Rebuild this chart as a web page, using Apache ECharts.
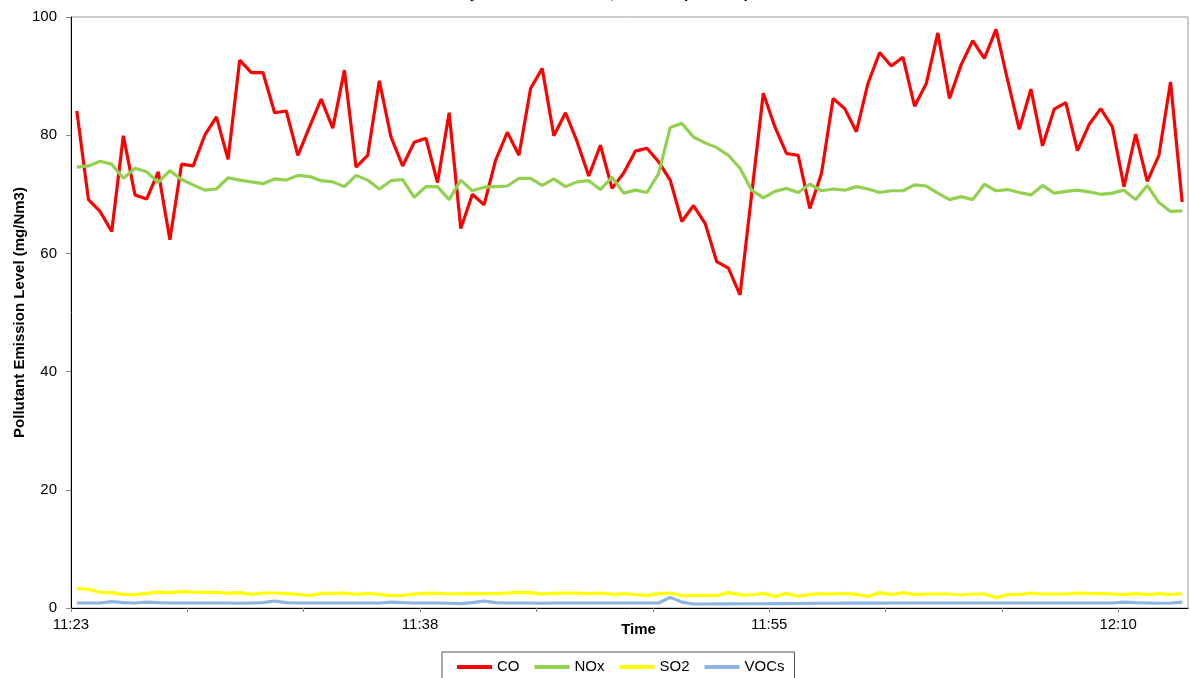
<!DOCTYPE html>
<html>
<head>
<meta charset="utf-8">
<script src="https://cdn.jsdelivr.net/npm/echarts@6/dist/echarts.min.js"></script>
<style>
html,body{margin:0;padding:0;background:#fff;}
#chart{width:1190px;height:678px;}
</style>
</head>
<body>
<div id="chart"></div>
<script>
// ---- data ----
const seriesNames = ['CO', 'NOx', 'SO2', 'VOCs'];
const tickLabels = ['11:23', '11:38', '11:55', '12:10'];
const tickLabelPositions = [0, 30, 60, 90];
const tickPositions = [0, 10, 20, 30, 40, 50, 60, 70, 80, 90];
const categories = [
  1,2,3,4,5,6,7,8,9,10,11,12,13,14,15,16,17,18,19,20,
  21,22,23,24,25,26,27,28,29,30,31,32,33,34,35,36,37,38,39,40,
  41,42,43,44,45,46,47,48,49,50,51,52,53,54,55,56,57,58,59,60,
  61,62,63,64,65,66,67,68,69,70,71,72,73,74,75,76,77,78,79,80,
  81,82,83,84,85,86,87,88,89,90,91,92,93,94,95,96
];
const co = [
  84.1,69.1,67.1,63.7,79.9,69.9,69.2,73.8,62.3,75.1,
  74.8,80.0,83.1,75.9,92.7,90.6,90.6,83.8,84.1,76.6,
  81.4,86.1,81.2,91.0,74.6,76.6,89.2,79.7,74.8,78.8,
  79.5,72.0,83.8,64.2,70.0,68.2,75.8,80.5,76.6,87.9,
  91.3,79.9,83.8,78.9,73.1,78.3,71.0,73.6,77.3,77.8,
  75.5,72.4,65.4,68.1,65.1,58.6,57.5,53.0,70.0,87.1,
  81.4,76.9,76.6,67.6,73.5,86.2,84.5,80.6,88.8,94.0,
  91.7,93.2,84.9,88.7,97.3,86.2,91.9,96.0,93.0,97.9,
  89.3,81.0,87.8,78.2,84.4,85.5,77.4,81.8,84.5,81.4,
  71.3,80.2,72.2,76.6,89.0,68.7
];
const nox = [
  74.6,74.8,75.6,75.1,72.7,74.4,73.8,72.0,74.0,72.5,
  71.6,70.7,70.9,72.8,72.4,72.1,71.8,72.6,72.4,73.2,
  73.0,72.3,72.1,71.3,73.2,72.4,70.9,72.3,72.5,69.5,
  71.3,71.3,69.1,72.4,70.6,71.2,71.3,71.4,72.7,72.7,
  71.5,72.6,71.3,72.1,72.3,70.8,72.9,70.2,70.7,70.3,
  73.5,81.3,82.0,79.7,78.7,77.9,76.6,74.4,70.7,69.4,
  70.5,71.0,70.3,71.7,70.6,70.9,70.7,71.3,70.9,70.3,
  70.6,70.6,71.6,71.4,70.2,69.1,69.6,69.1,71.7,70.6,
  70.8,70.3,69.9,71.5,70.2,70.5,70.7,70.4,70.0,70.2,
  70.7,69.1,71.5,68.6,67.1,67.2
];
const so2 = [
  3.33,3.16,2.65,2.60,2.31,2.26,2.48,2.70,2.60,2.76,
  2.70,2.65,2.65,2.48,2.60,2.31,2.54,2.54,2.43,2.31,
  2.09,2.48,2.48,2.54,2.31,2.48,2.31,2.09,2.14,2.37,
  2.48,2.50,2.37,2.43,2.48,2.43,2.43,2.54,2.65,2.60,
  2.37,2.48,2.54,2.54,2.43,2.54,2.31,2.43,2.26,2.09,
  2.43,2.54,2.09,2.14,2.14,2.09,2.60,2.26,2.20,2.48,
  1.97,2.48,1.97,2.30,2.43,2.37,2.48,2.31,1.97,2.60,
  2.26,2.60,2.26,2.37,2.37,2.37,2.20,2.37,2.37,1.75,
  2.26,2.26,2.54,2.37,2.37,2.37,2.54,2.48,2.43,2.37,
  2.26,2.43,2.26,2.43,2.26,2.43
];
const vocs = [
  0.85,0.85,0.85,1.07,0.90,0.85,1.00,0.90,0.85,0.85,
  0.85,0.85,0.85,0.85,0.80,0.85,0.90,1.18,0.90,0.85,
  0.85,0.85,0.85,0.85,0.85,0.85,0.85,1.00,0.90,0.85,
  0.85,0.85,0.80,0.75,0.90,1.18,0.90,0.85,0.85,0.85,
  0.80,0.85,0.85,0.85,0.85,0.85,0.85,0.85,0.85,0.85,
  0.85,1.80,1.00,0.68,0.68,0.70,0.70,0.72,0.72,0.72,
  0.74,0.74,0.76,0.78,0.80,0.80,0.82,0.82,0.84,0.84,
  0.85,0.85,0.85,0.85,0.85,0.85,0.85,0.85,0.85,0.85,
  0.85,0.85,0.85,0.85,0.85,0.85,0.85,0.85,0.85,0.85,
  1.00,0.90,0.85,0.80,0.85,1.00
];
const seriesData = [co, nox, so2, vocs];
const colors = ['#FF0000', '#92D050', '#FFFF00', '#8DB4E2'];

// ---- chart ----
const FONT = 'Liberation Sans, Arial, sans-serif';
const chart = echarts.init(document.getElementById('chart'), null, {renderer: 'canvas'});
const option = {
  backgroundColor: '#ffffff',
  animation: false,
  title: {
    text: 'Daily Stack Emissions, Boiler 2 (Test 1A)',
    left: 'center',
    top: -14,
    padding: 0,
    textStyle: {fontFamily: FONT, fontSize: 16, fontWeight: 'bold', color: '#000'}
  },
  grid: {
    left: 71, right: 2, top: 17, bottom: 70,
    containLabel: false,
    outerBoundsMode: 'none',
    show: true, borderColor: '#9a9a9a', borderWidth: 1, backgroundColor: 'transparent'
  },
  legend: {
    data: seriesNames,
    left: 442, top: 652,
    orient: 'horizontal',
    icon: 'rect',
    padding: [6, 10, 6, 15],
    itemGap: 15,
    itemWidth: 35,
    itemHeight: 4,
    borderColor: '#555',
    borderWidth: 1,
    textStyle: {fontFamily: FONT, fontSize: 15, color: '#000', lineHeight: 18}
  },
  xAxis: [
    {
      type: 'category',
      data: categories,
      boundaryGap: true,
      position: 'top',
      show: false
    },
    {
      type: 'value',
      position: 'bottom',
      min: 0, max: 96,
      name: 'Time',
      nameLocation: 'middle',
      nameGap: 14,
      nameMoveOverlap: false,
      nameTextStyle: {fontFamily: FONT, fontSize: 15, fontWeight: 'bold', color: '#000', padding: [0, 0, 0, 18]},
      axisLine: {show: true, lineStyle: {color: '#000', width: 1}},
      axisTick: {show: true, inside: false, length: 4, lineStyle: {color: '#888'}, customValues: tickPositions},
      splitLine: {show: false},
      axisLabel: {
        show: true,
        customValues: tickLabelPositions,
        margin: 9,
        fontFamily: FONT, fontSize: 15, color: '#000',
        formatter: function (v) {
          const k = tickLabelPositions.indexOf(v);
          return k >= 0 ? tickLabels[k] : '';
        }
      }
    }
  ],
  yAxis: {
    type: 'value',
    min: 0, max: 100, interval: 20,
    name: 'Pollutant Emission Level (mg/Nm3)',
    nameLocation: 'middle',
    nameGap: 44,
    nameMoveOverlap: false,
    nameTextStyle: {fontFamily: FONT, fontSize: 15, fontWeight: 'bold', color: '#000'},
    axisLine: {show: true, lineStyle: {color: '#000', width: 1}},
    axisTick: {show: true, inside: false, length: 5, lineStyle: {color: '#888'}},
    splitLine: {show: false},
    axisLabel: {margin: 14, fontFamily: FONT, fontSize: 15, color: '#000'}
  },
  series: seriesNames.map(function (n, i) {
    return {
      name: n,
      type: 'line',
      xAxisIndex: 0,
      data: seriesData[i],
      symbol: 'none',
      showSymbol: false,
      smooth: false,
      color: colors[i],
      lineStyle: {color: colors[i], width: 3.2},
      itemStyle: {color: colors[i]},
      z: 2 + i
    };
  })
};
chart.setOption(option);
</script>
</body>
</html>
